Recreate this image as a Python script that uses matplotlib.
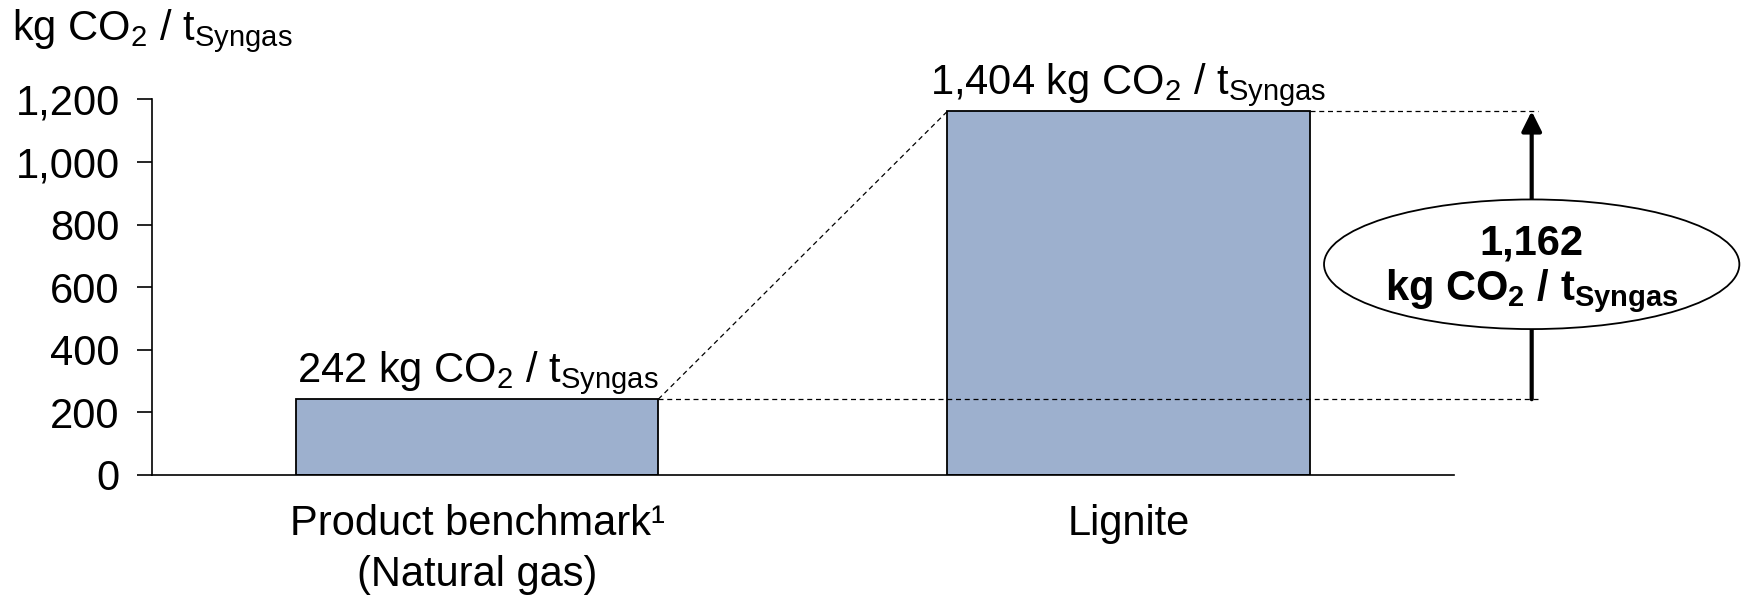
import matplotlib
matplotlib.use('Agg')
import matplotlib.pyplot as plt
from matplotlib.patches import Ellipse

# values
categories = ['Product benchmark\u00b9\n(Natural gas)', 'Lignite']
bar_heights = [242, 1162]          # as drawn on the axis
value_labels = ['242', '1,404']    # printed above the bars
diff_label = '1,162'
y_ticks = [0, 200, 400, 600, 800, 1000, 1200]

plt.rcParams['font.family'] = ['Liberation Sans', 'DejaVu Sans']
plt.rcParams['mathtext.fontset'] = 'custom'
plt.rcParams['mathtext.rm'] = 'Liberation Sans'
plt.rcParams['mathtext.it'] = 'Liberation Sans:italic'
plt.rcParams['mathtext.bf'] = 'Liberation Sans:bold'

fs = 30
unit = r'kg CO$_{\mathrm{2}}$ / t$_{\mathrm{Syngas}}$'
unit_bf = r'kg CO$_{\mathbf{2}}$ / t$_{\mathbf{Syngas}}$'

fig = plt.figure(figsize=(17.43, 5.97), dpi=100)
ax = fig.add_axes([0.0870, 0.2044, 0.7473, 0.6293])

x = [0, 1]
w = 0.556
ax.bar(x, bar_heights, width=w, color='#9db0ce', edgecolor='black', linewidth=1.3, zorder=2)

ax.set_xlim(-0.5, 1.5)
ax.set_ylim(0, 1200)
ax.set_yticks(y_ticks)
ax.set_yticklabels([f'{v:,}' for v in y_ticks], fontsize=fs)
ax.set_xticks(x)
ax.set_xticklabels(categories, fontsize=fs, linespacing=1.35)
ax.tick_params(axis='y', direction='out', length=11, width=1.2, pad=12)
ax.tick_params(axis='x', length=0, pad=21)
for s in ['top', 'right']:
    ax.spines[s].set_visible(False)
for s in ['left', 'bottom']:
    ax.spines[s].set_linewidth(1.2)

# value labels above bars
for xi, h, lab in zip(x, bar_heights, value_labels):
    ax.annotate(lab + ' ' + unit, xy=(xi, h), xytext=(0, 12), textcoords='offset points',
                ha='center', va='baseline', fontsize=fs, annotation_clip=False)

# dashed guide lines
x_arrow = 1.619
x_end = 1.629
r0 = x[0] + w / 2
l1 = x[1] - w / 2
r1 = x[1] + w / 2
dash = dict(color='black', lw=0.9, ls=(0, (4, 3)), clip_on=False, zorder=3)
ax.plot([r0, l1], [bar_heights[0], bar_heights[1]], **dash)
ax.plot([r0, x_end], [bar_heights[0], bar_heights[0]], **dash)
ax.plot([r1, x_end], [bar_heights[1], bar_heights[1]], **dash)

# difference arrow
ax.annotate('', xy=(x_arrow, bar_heights[1]), xytext=(x_arrow, bar_heights[0]),
            arrowprops=dict(arrowstyle='-|>', lw=3, color='black', mutation_scale=30,
                            shrinkA=0, shrinkB=0),
            annotation_clip=False, zorder=4)

ell = Ellipse((x_arrow, 673), width=0.6377, height=414, facecolor='white',
              edgecolor='black', lw=1.3, clip_on=False, zorder=5)
ax.add_patch(ell)
ax.text(x_arrow, 703, diff_label, ha='center', va='baseline', fontsize=fs,
        fontweight='bold', zorder=6, clip_on=False)
ax.text(x_arrow, 559, unit_bf, ha='center', va='baseline', fontsize=fs,
        fontweight='bold', zorder=6, clip_on=False)

# axis unit at top left
fig.text(12 / 1743, 1 - 40 / 597, unit, ha='left', va='baseline', fontsize=fs)

fig.savefig('out.png', dpi=100)
